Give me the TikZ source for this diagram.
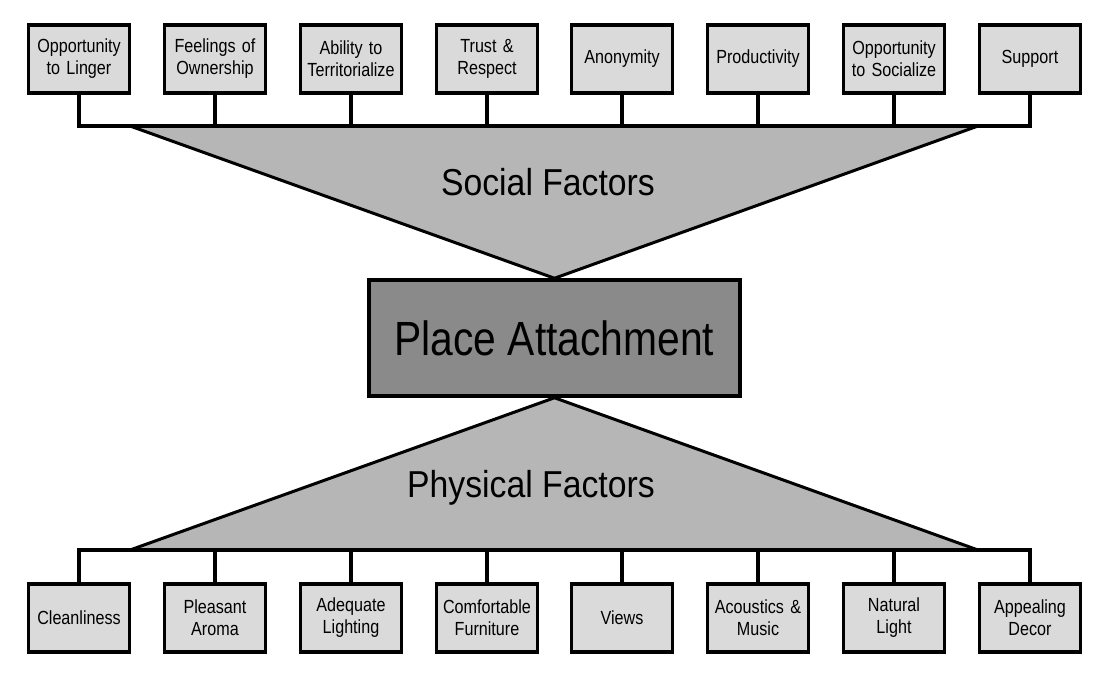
\documentclass[tikz,border=0pt]{standalone}
\usepackage{fontspec}
\setmainfont{Liberation Sans}
\newfontfamily\narrowsans[FakeStretch=0.85]{Liberation Sans}
\newfontfamily\groupsans[FakeStretch=0.9]{Liberation Sans}
\usetikzlibrary{backgrounds}
\definecolor{boxGray}{RGB}{218,218,218}
\definecolor{wedgeGray}{RGB}{182,182,182}
\definecolor{coreGray}{RGB}{138,138,138}

\tikzset{
  factor/.style={draw=black, fill=boxGray, line width=3.5pt, minimum width=101pt, minimum height=68pt,
                 text width=97pt, align=center, inner sep=2pt, font=\narrowsans\fontsize{19}{22}\selectfont},
  core/.style={draw=black, fill=coreGray, line width=3.5pt, minimum width=371pt, minimum height=116pt,
               inner sep=0pt, font=\narrowsans\fontsize{48}{54}\selectfont},
  group/.style={inner sep=0pt, font=\groupsans\fontsize{37.5}{42}\selectfont},
  link/.style={line width=3.5pt, line cap=rect},
  edge/.style={line width=3pt},
}

\begin{document}
\begin{tikzpicture}[x=1pt, y=-1pt]
  \useasboundingbox (0,0) rectangle (1096,673);

  % social factors
  \node[factor] (linger)  at (79,   59) {Opportunity\\to Linger};
  \node[factor] (owner)   at (215,  59) {Feelings of\\Ownership};
  \node[factor] (terr)    at (351,  59) {Ability to\\Territorialize};
  \node[factor] (trust)   at (487,  59) {Trust \&\\Respect};
  \node[factor] (anon)    at (622,  59) {Anonymity};
  \node[factor] (prod)    at (758,  59) {Productivity};
  \node[factor] (social)  at (894,  59) {Opportunity\\to Socialize};
  \node[factor] (support) at (1030, 59) {Support};

  % place attachment
  \node[core] (pa) at (554.5, 338) {Place Attachment};

  % physical factors
  \node[factor] (clean)     at (79,   618) {Cleanliness};
  \node[factor] (aroma)     at (215,  618) {Pleasant\\Aroma};
  \node[factor] (lighting)  at (351,  618) {Adequate\\Lighting};
  \node[factor] (furniture) at (487,  618) {Comfortable\\Furniture};
  \node[factor] (views)     at (622,  618) {Views};
  \node[factor] (acoustics) at (758,  618) {Acoustics \&\\Music};
  \node[factor] (natlight)  at (894,  618) {Natural\\Light};
  \node[factor] (decor)     at (1030, 618) {Appealing\\Decor};

  \coordinate (sbus) at (0, 126);
  \coordinate (pbus) at (0, 550);
  \coordinate (sL) at (130, 126);
  \coordinate (sR) at (978, 126);
  \coordinate (pL) at (130, 550);
  \coordinate (pR) at (978, 550);

  \begin{scope}[on background layer]
    \fill[wedgeGray] (sL) -- (sR) -- (pa.north) -- cycle;
    \fill[wedgeGray] (pL) -- (pR) -- (pa.south) -- cycle;
    \draw[edge] (sL) -- (pa.north) -- (sR);
    \draw[edge] (pL) -- (pa.south) -- (pR);
  \end{scope}

  \node[group] (socialLbl) at (548, 182) {Social Factors};
  \node[group] (physLbl)   at (531, 488) {Physical Factors};

  % bus lines
  \draw[link] (linger.south |- sbus) -- (support.south |- sbus);
  \draw[link] (clean.north |- pbus) -- (decor.north |- pbus);

  \draw[link] (linger.south)  -- (linger.south |- sbus);
  \draw[link] (owner.south)   -- (owner.south |- sbus);
  \draw[link] (terr.south)    -- (terr.south |- sbus);
  \draw[link] (trust.south)   -- (trust.south |- sbus);
  \draw[link] (anon.south)    -- (anon.south |- sbus);
  \draw[link] (prod.south)    -- (prod.south |- sbus);
  \draw[link] (social.south)  -- (social.south |- sbus);
  \draw[link] (support.south) -- (support.south |- sbus);

  \draw[link] (clean.north)     -- (clean.north |- pbus);
  \draw[link] (aroma.north)     -- (aroma.north |- pbus);
  \draw[link] (lighting.north)  -- (lighting.north |- pbus);
  \draw[link] (furniture.north) -- (furniture.north |- pbus);
  \draw[link] (views.north)     -- (views.north |- pbus);
  \draw[link] (acoustics.north) -- (acoustics.north |- pbus);
  \draw[link] (natlight.north)  -- (natlight.north |- pbus);
  \draw[link] (decor.north)     -- (decor.north |- pbus);
\end{tikzpicture}
\end{document}
